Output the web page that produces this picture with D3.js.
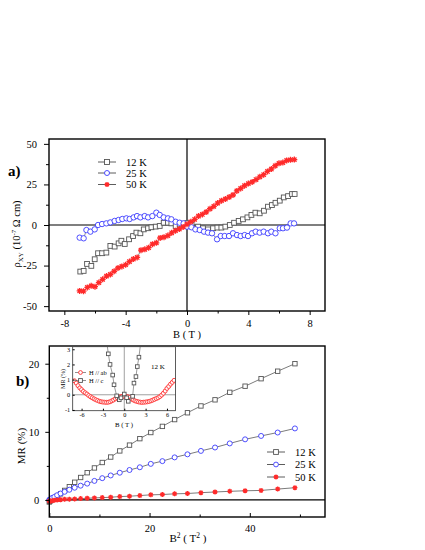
<!DOCTYPE html>
<html>
<head>
<meta charset="UTF-8" />
<style>
  body { margin: 0; background: #fff; }
  svg text { font-family: "Liberation Serif", "Times New Roman", serif; fill: #000; }
  .axis path.domain { display: none; }
  .axis line { stroke: #000; stroke-width: 1; }
</style>
</head>
<body>
<svg></svg>
<script src="https://d3js.org/d3.v7.min.js"></script>
<script>
// ---- panel a: Hall resistivity vs field ----
let b12 = [-6.96, -6.74, -6.52, -6.24, -6.02, -5.8, -5.54, -5.26, -5.0, -4.72, -4.46, -4.28, -4.06, -3.78, -3.52, -3.3, -3.04, -2.82, -2.54, -2.32, -2.04, -1.78, -1.52, -1.24, -1.02, -0.74, -0.48, -0.22, 0.02, 0.3, 0.72, 1.04, 1.37, 1.7, 1.98, 2.24, 2.5, 2.79, 3.07, 3.37, 3.65, 3.94, 4.2, 4.46, 4.74, 5.02, 5.28, 5.54, 5.77, 6.05, 6.31, 6.59, 6.85, 7.02];
let rho12 = [-28.7, -28.3, -24.0, -25.2, -21.1, -17.4, -17.4, -17.0, -12.9, -13.3, -11.3, -9.7, -11.7, -8.8, -6.8, -4.7, -5.1, -2.7, -2.0, -1.4, -1.0, -0.6, 1.4, 1.4, 1.0, -0.6, 0.3, 0.8, 1.2, 0.2, -1.0, -2.0, -2.7, -2.0, -1.6, -1.6, -1.0, 0, 1.4, 2.5, 3.5, 4.7, 6.2, 7.6, 7.2, 8.8, 11.3, 12.3, 13.7, 15.0, 17.0, 17.8, 19.1, 19.1];
let b25 = [-7.0, -6.74, -6.56, -6.3, -6.02, -5.8, -5.54, -5.26, -5.0, -4.72, -4.46, -4.22, -3.95, -3.74, -3.48, -3.26, -3.04, -2.76, -2.54, -2.26, -2.0, -1.78, -1.52, -1.24, -1.02, -0.74, -0.48, -0.22, 0, 0.29, 0.55, 0.83, 1.11, 1.37, 1.63, 1.96, 2.2, 2.46, 2.74, 3.0, 3.26, 3.5, 3.76, 3.98, 4.24, 4.48, 4.74, 5.0, 5.28, 5.5, 5.77, 6.05, 6.26, 6.52, 6.76, 6.98];
let rho25 = [-7.8, -8.2, -3.1, -4.1, -2.7, 0, 0.6, 1.0, 1.6, 2.5, 3.1, 3.7, 4.1, 3.7, 4.7, 5.5, 4.7, 5.5, 4.7, 5.5, 7.6, 6.2, 4.7, 4.1, 3.5, 2.0, 1.4, 1.0, -1.0, -1.4, -2.7, -3.1, -4.1, -4.7, -5.1, -8.8, -6.8, -6.8, -6.8, -5.1, -6.2, -6.8, -6.2, -6.8, -5.1, -4.1, -4.7, -4.1, -5.1, -4.1, -5.1, -2.0, -2.0, -1.6, 1.0, 1.0];
let b50 = [-7, -6.75, -6.5, -6.25, -6, -5.75, -5.5, -5.25, -5, -4.75, -4.5, -4.25, -4, -3.75, -3.5, -3.25, -3, -2.75, -2.5, -2.25, -2, -1.75, -1.5, -1.25, -1, -0.75, -0.5, -0.25, 0, 0.25, 0.5, 0.75, 1, 1.25, 1.5, 1.75, 2, 2.25, 2.5, 2.75, 3, 3.25, 3.5, 3.75, 4, 4.25, 4.5, 4.75, 5, 5.25, 5.5, 5.75, 6, 6.25, 6.5, 6.75, 7];
let rho50 = [-40.6, -40.8, -38.5, -37.5, -38.0, -35.5, -33.5, -31.5, -30.5, -28.5, -26.5, -25.5, -24.5, -22.5, -21.0, -20.0, -15.5, -15.0, -14.0, -11.8, -11.0, -8.0, -7.5, -6.5, -4.8, -3.5, -2.5, -1.2, 0.5, 2.0, 3.5, 5.5, 6.5, 8.0, 10.0, 11.5, 13.5, 15.0, 16.0, 17.2, 18.5, 21.0, 22.5, 24.2, 25.5, 26.5, 28.0, 29.7, 31.0, 33.0, 34.5, 36.5, 38.0, 38.5, 39.8, 40.2, 40.3];
let ticksA_x = [-8, -4, 0, 4, 8];
let minorA_x = [-6, -2, 2, 6];
let ticksA_y = [-50, -25, 0, 25, 50];
let minorA_y = [-37.5, -12.5, 12.5, 37.5];

// ---- panel b: MR vs B^2 ----
let bsq = [0, 0.06, 0.25, 0.56, 1, 1.56, 2.25, 3.06, 4, 5.06, 6.25, 7.56, 9, 10.56, 12.25, 14.06, 16, 18.06, 20.25, 22.56, 25, 27.56, 30.25, 33.06, 36, 39.06, 42.25, 45.56, 49];
let mr12 = [-0.3, -0.2, -0.1, 0.1, 0.3, 0.55, 0.9, 1.4, 1.95, 2.6, 3.3, 4.0, 4.7, 5.5, 6.3, 7.2, 8.05, 9.0, 9.9, 10.8, 11.8, 12.8, 13.8, 14.7, 15.8, 16.7, 17.8, 18.9, 20.0];
let mr25 = [0, 0.05, 0.15, 0.3, 0.45, 0.7, 0.95, 1.2, 1.5, 1.8, 2.1, 2.4, 2.8, 3.2, 3.6, 4.0, 4.4, 4.8, 5.3, 5.7, 6.25, 6.7, 7.2, 7.7, 8.3, 8.9, 9.4, 9.9, 10.5];
let mr50 = [-0.15, -0.2, -0.15, -0.1, -0.05, 0, 0.05, 0.1, 0.12, 0.15, 0.2, 0.25, 0.3, 0.35, 0.4, 0.5, 0.55, 0.65, 0.75, 0.8, 0.9, 0.95, 1.07, 1.17, 1.27, 1.35, 1.4, 1.6, 1.8];
let ticksB_x = [0, 20, 40];
let minorB_x = [10, 30, 50];
let ticksB_y = [0, 10, 20];
let minorB_y = [5, 15];

// ---- inset: MR vs B at 12 K ----
let bAb = [-7, -6.75, -6.5, -6.25, -6, -5.75, -5.5, -5.25, -5, -4.75, -4.5, -4.25, -4, -3.75, -3.5, -3.25, -3, -2.75, -2.5, -2.25, -2, -1.75, -1.5, -1.25, -1, -0.75, -0.5, -0.25, 0, 0.25, 0.5, 0.75, 1, 1.25, 1.5, 1.75, 2, 2.25, 2.5, 2.75, 3, 3.25, 3.5, 3.75, 4, 4.25, 4.5, 4.75, 5, 5.25, 5.5, 5.75, 6, 6.25, 6.5, 6.75, 7];
let mrAb = [0.92, 0.77, 0.6, 0.45, 0.34, 0.22, 0.13, 0.05, -0.05, -0.13, -0.2, -0.27, -0.33, -0.38, -0.43, -0.46, -0.48, -0.49, -0.5, -0.49, -0.46, -0.4, -0.34, -0.26, -0.2, -0.15, -0.12, -0.1, -0.1, -0.1, -0.13, -0.18, -0.28, -0.34, -0.4, -0.44, -0.47, -0.49, -0.5, -0.49, -0.48, -0.46, -0.44, -0.4, -0.35, -0.3, -0.25, -0.2, -0.12, -0.02, 0.1, 0.25, 0.42, 0.55, 0.7, 0.82, 0.95];
let bC = [-2.5, -2.24, -2.0, -1.63, -1.44, -1.07, -0.7, -0.46, 0, 0.33, 0.56, 1.17, 1.36, 1.64, 1.83, 2.06, 2.3];
let mrC = [3.6, 2.7, 2.0, 1.3, 0.66, -0.07, -0.33, -0.2, 0.05, -0.2, -0.43, -0.1, 0.77, 1.2, 1.86, 2.48, 3.4];
let ticksI_x = [-6, -3, 0, 3, 6];
let ticksI_y = [-1, 0, 1, 2, 3];

let labels = ["12 K", "25 K", "50 K"];
let colors = ["#555555", "#3b3bff", "#ff2a2a"];

let width = 425, height = 550;
let svg = d3.select("svg").attr("width", width).attr("height", height);
svg.append("rect").attr("width", width).attr("height", height).attr("fill", "#fff");

// plain hyphen minus like the original figure
let fmt = (d) => String(d);

function zip(xs, ys) {
  return xs.map((x, i) => [x, ys[i]]);
}

// marker drawing: kind = "square" | "circle" | "star"
function marker(g, kind, size, color) {
  if (kind === "square") {
    g.append("rect").attr("x", -size / 2).attr("y", -size / 2)
      .attr("width", size).attr("height", size)
      .attr("fill", "#fff").attr("stroke", color).attr("stroke-width", 0.9);
  } else if (kind === "circle") {
    g.append("circle").attr("r", size / 2)
      .attr("fill", "#fff").attr("stroke", color).attr("stroke-width", 0.9);
  } else {
    let r = size / 2, k = r * 0.72;
    g.append("path")
      .attr("d", `M${-r},0L${r},0M0,${-r}L0,${r}M${-k},${-k}L${k},${k}M${-k},${k}L${k},${-k}`)
      .attr("stroke", color).attr("stroke-width", 1.3).attr("fill", "none");
  }
}

function series(g, x, y, pts, kind, size, color, lineColor) {
  g.append("path")
    .datum(pts)
    .attr("fill", "none")
    .attr("stroke", lineColor)
    .attr("stroke-width", 0.6)
    .attr("d", d3.line().x((d) => x(d[0])).y((d) => y(d[1])));
  g.append("g").selectAll("g")
    .data(pts)
    .enter()
    .append("g")
    .attr("transform", (d) => `translate(${x(d[0])},${y(d[1])})`)
    .each(function () { marker(d3.select(this), kind, size, color); });
}

function legend(g, x0, ys, kinds, size) {
  labels.forEach((lab, i) => {
    let row = g.append("g").attr("transform", `translate(${x0},${ys[i]})`);
    row.append("line").attr("x1", 0).attr("x2", 18).attr("stroke", "#333").attr("stroke-width", 0.8);
    marker(row.append("g").attr("transform", "translate(9,0)"), kinds[i], size, colors[i]);
    row.append("text").attr("x", 28).attr("y", 3.6).attr("font-size", 10.5).text(lab);
  });
}

let kinds = ["square", "circle", "star"];

// ================= panel a =================
let xA = d3.scaleLinear().domain([-9, 9]).range([49, 325]);
let yA = d3.scaleLinear().domain([-53, 53]).range([311, 139]);

svg.append("clipPath").attr("id", "clipA").append("rect")
  .attr("x", 49).attr("y", 139).attr("width", 276).attr("height", 172);

let gA = svg.append("g");
gA.append("line").attr("x1", 49).attr("x2", 325).attr("y1", yA(0)).attr("y2", yA(0))
  .attr("stroke", "#000").attr("stroke-width", 1.2);
gA.append("line").attr("x1", xA(0)).attr("x2", xA(0)).attr("y1", 139).attr("y2", 311)
  .attr("stroke", "#000").attr("stroke-width", 1.2);

let dataA = [zip(b12, rho12), zip(b25, rho25), zip(b50, rho50)];
let plotA = gA.append("g").attr("clip-path", "url(#clipA)");
[0, 1, 2].forEach((i) => series(plotA, xA, yA, dataA[i], kinds[i], i === 1 ? 5.4 : (i === 0 ? 4.8 : 6), colors[i], "#444"));

gA.append("rect").attr("x", 49).attr("y", 139).attr("width", 276).attr("height", 172)
  .attr("fill", "none").attr("stroke", "#000").attr("stroke-width", 1.4);

gA.append("g").attr("class", "axis").attr("transform", "translate(0,311)")
  .call(d3.axisBottom(xA).tickValues(ticksA_x).tickSize(4).tickPadding(5).tickFormat(fmt))
  .selectAll("text").attr("font-size", 10.5);
gA.append("g").attr("class", "axis").attr("transform", "translate(0,311)")
  .call(d3.axisBottom(xA).tickValues(minorA_x).tickSize(2.5).tickFormat(""));
gA.append("g").attr("class", "axis").attr("transform", "translate(49,0)")
  .call(d3.axisLeft(yA).tickValues(ticksA_y).tickSize(5).tickPadding(7).tickFormat(fmt))
  .selectAll("text").attr("font-size", 10.5);
gA.append("g").attr("class", "axis").attr("transform", "translate(49,0)")
  .call(d3.axisLeft(yA).tickValues(minorA_y).tickSize(3).tickFormat(""));

legend(gA, 98, [162, 173, 184.5], kinds, 5);

gA.append("text").attr("x", 187).attr("y", 338).attr("text-anchor", "middle")
  .attr("font-size", 10.5).text("B ( T )");
let ya = gA.append("text").attr("transform", "translate(20,234) rotate(-90)")
  .attr("text-anchor", "middle").attr("font-size", 10.5);
ya.append("tspan").text("\u03C1");
ya.append("tspan").attr("font-size", 7).attr("dy", 2.5).text("XY");
ya.append("tspan").attr("dy", -2.5).text(" (10");
ya.append("tspan").attr("font-size", 7).attr("dy", -4).text("-7");
ya.append("tspan").attr("dy", 4).text(" \u03A9 cm)");
gA.append("text").attr("x", 8).attr("y", 176).attr("font-size", 15)
  .attr("font-weight", "bold").text("a)");

// ================= panel b =================
let xB = d3.scaleLinear().domain([0, 55]).range([49.3, 325]);
let yB = d3.scaleLinear().domain([-2.5, 22.6]).range([517, 346]);

svg.append("clipPath").attr("id", "clipB").append("rect")
  .attr("x", 46).attr("y", 346).attr("width", 279).attr("height", 171);

let gB = svg.append("g");
gB.append("line").attr("x1", 49.3).attr("x2", 325).attr("y1", yB(0)).attr("y2", yB(0))
  .attr("stroke", "#000").attr("stroke-width", 1.2);

let dataB = [zip(bsq, mr12), zip(bsq, mr25), zip(bsq, mr50)];
let plotB = gB.append("g").attr("clip-path", "url(#clipB)");
[0, 1, 2].forEach((i) => series(plotB, xB, yB, dataB[i], kinds[i], i === 0 ? 4.4 : 5, colors[i], "#222"));

gB.append("rect").attr("x", 49.3).attr("y", 346).attr("width", 275.7).attr("height", 171)
  .attr("fill", "none").attr("stroke", "#000").attr("stroke-width", 1.4);

gB.append("g").attr("class", "axis").attr("transform", "translate(0,517)")
  .call(d3.axisBottom(xB).tickValues(ticksB_x).tickSize(-4).tickPadding(8).tickFormat(fmt))
  .selectAll("text").attr("font-size", 10.5);
gB.append("g").attr("class", "axis").attr("transform", "translate(0,517)")
  .call(d3.axisBottom(xB).tickValues(minorB_x).tickSize(-2.5).tickFormat(""));
gB.append("g").attr("class", "axis").attr("transform", "translate(49.3,0)")
  .call(d3.axisLeft(yB).tickValues(ticksB_y).tickSize(4).tickPadding(6).tickFormat(fmt))
  .selectAll("text").attr("font-size", 10.5);
gB.append("g").attr("class", "axis").attr("transform", "translate(49.3,0)")
  .call(d3.axisLeft(yB).tickValues(minorB_y).tickSize(2.5).tickFormat(""));

legend(gB, 267, [452, 464.5, 477], kinds, 4.8);

let xb = gB.append("text").attr("x", 188).attr("y", 542).attr("text-anchor", "middle").attr("font-size", 11);
xb.append("tspan").text("B");
xb.append("tspan").attr("font-size", 7.5).attr("dy", -4.5).text("2");
xb.append("tspan").attr("dy", 4.5).text(" ( T");
xb.append("tspan").attr("font-size", 7.5).attr("dy", -4.5).text("2");
xb.append("tspan").attr("dy", 4.5).text(" )");
gB.append("text").attr("transform", "translate(25,446) rotate(-90)")
  .attr("text-anchor", "middle").attr("font-size", 11).text("MR (%)");
gB.append("text").attr("x", 16).attr("y", 386).attr("font-size", 15)
  .attr("font-weight", "bold").text("b)");

// ================= inset =================
let xI = d3.scaleLinear().domain([-7.25, 7.2]).range([72.7, 175.5]);
let yI = d3.scaleLinear().domain([-1.05, 3.17]).range([410.7, 346.7]);

let gI = svg.append("g");
gI.append("rect").attr("x", 72.7).attr("y", 346.7).attr("width", 102.8).attr("height", 64)
  .attr("fill", "#fff");
svg.append("clipPath").attr("id", "clipI").append("rect")
  .attr("x", 72.7).attr("y", 346.7).attr("width", 102.8).attr("height", 64);

gI.append("line").attr("x1", 72.7).attr("x2", 175.5).attr("y1", yI(0)).attr("y2", yI(0))
  .attr("stroke", "#777").attr("stroke-width", 0.7);
gI.append("line").attr("x1", xI(0)).attr("x2", xI(0)).attr("y1", 346.7).attr("y2", 410.7)
  .attr("stroke", "#777").attr("stroke-width", 0.7);

let plotI = gI.append("g").attr("clip-path", "url(#clipI)");
series(plotI, xI, yI, zip(bAb, mrAb), "circle", 4, "#ff3030", "none");
series(plotI, xI, yI, zip(bC, mrC), "square", 3.6, "#555555", "#555");

gI.append("rect").attr("x", 72.7).attr("y", 346.7).attr("width", 102.8).attr("height", 64)
  .attr("fill", "none").attr("stroke", "#333").attr("stroke-width", 0.8);

gI.append("g").attr("class", "axis").attr("transform", "translate(0,410.7)")
  .call(d3.axisBottom(xI).tickValues(ticksI_x).tickSize(-2).tickPadding(1.5).tickFormat(fmt))
  .selectAll("text").attr("font-size", 6.2);
gI.append("g").attr("class", "axis").attr("transform", "translate(72.7,0)")
  .call(d3.axisLeft(yI).tickValues(ticksI_y).tickSize(-2).tickPadding(2.5).tickFormat(fmt))
  .selectAll("text").attr("font-size", 6.2);
gI.selectAll(".axis line").attr("stroke-width", 0.6);

gI.append("text").attr("x", 124).attr("y", 427).attr("text-anchor", "middle")
  .attr("font-size", 6.8).text("B ( T )");
gI.append("text").attr("transform", "translate(64.5,379) rotate(-90)")
  .attr("text-anchor", "middle").attr("font-size", 6).text("MR (%)");
gI.append("text").attr("x", 151).attr("y", 369).attr("font-size", 7).text("12 K");

let insetLabels = ["H // ab", "H // c"];
let insetKinds = ["circle", "square"];
let insetColors = ["#ff3030", "#555555"];
insetLabels.forEach((lab, i) => {
  let row = gI.append("g").attr("transform", `translate(75,${372.5 + i * 8})`);
  row.append("line").attr("x1", 0).attr("x2", 11).attr("stroke", "#444").attr("stroke-width", 0.6);
  marker(row.append("g").attr("transform", "translate(5.5,0)"), insetKinds[i], 3.8, insetColors[i]);
  row.append("text").attr("x", 14).attr("y", 2.3).attr("font-size", 6.5).text(lab);
});
</script>
</body>
</html>
